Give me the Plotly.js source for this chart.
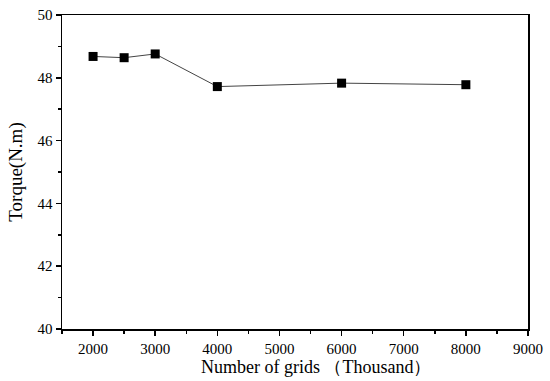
<!DOCTYPE html>
<html><head><meta charset="utf-8">
<script src="https://cdn.plot.ly/plotly-3.0.1.min.js"></script>
<style>html,body{margin:0;padding:0;background:#fff}#c{width:550px;height:381px}</style>
</head><body><div id="c"></div>
<script>
const grids = [2000, 2500, 3000, 4000, 6000, 8000];
const torque = [48.68, 48.64, 48.76, 47.72, 47.83, 47.78];
const xTicks = [2000, 3000, 4000, 5000, 6000, 7000, 8000, 9000];
const yTicks = [40, 42, 44, 46, 48, 50];
const xTitle = 'Number of grids （Thousand）';
const yTitle = 'Torque(N.m)';

const fam = '"Liberation Serif", "Times New Roman", serif';
const font = {family: fam, size: 15, color: '#000'};
Plotly.newPlot('c', [{
  x: grids, y: torque, type: 'scatter', mode: 'lines+markers',
  line: {color: '#444', width: 1},
  marker: {symbol: 'square', size: 9, color: '#000'}
}], {
  width: 550, height: 381,
  margin: {l: 62, r: 22, t: 15, b: 52},
  paper_bgcolor: '#fff', plot_bgcolor: '#fff',
  showlegend: false,
  font: font,
  xaxis: {
    range: [1500, 9000], tickvals: xTicks, ticktext: xTicks.map(String),
    ticks: 'outside', ticklen: 5, tickwidth: 1.5, tickcolor: '#000',
    minor: {dtick: 500, tick0: 1500, ticks: 'outside', ticklen: 3, tickwidth: 1.5, tickcolor: '#000'},
    showline: true, linecolor: '#000', linewidth: 1.5, mirror: true,
    showgrid: false, zeroline: false,
    tickfont: font
  },
  yaxis: {
    range: [40, 50], tickvals: yTicks, ticktext: yTicks.map(String),
    ticks: 'outside', ticklen: 5, tickwidth: 1.5, tickcolor: '#000',
    minor: {dtick: 1, ticks: 'outside', ticklen: 3, tickwidth: 1.5, tickcolor: '#000'},
    showline: true, linecolor: '#000', linewidth: 1.5, mirror: true,
    showgrid: false, zeroline: false,
    tickfont: font,
    title: {text: yTitle, font: {family: fam, size: 19, color: '#000'}, standoff: 10}
  },
  annotations: [{
    text: xTitle, xref: 'paper', yref: 'paper', x: 0.545, y: -0.122,
    xanchor: 'center', yanchor: 'middle', showarrow: false,
    font: {family: fam, size: 18, color: '#000'}
  }]
}, {displayModeBar: false, staticPlot: true});
</script></body></html>
